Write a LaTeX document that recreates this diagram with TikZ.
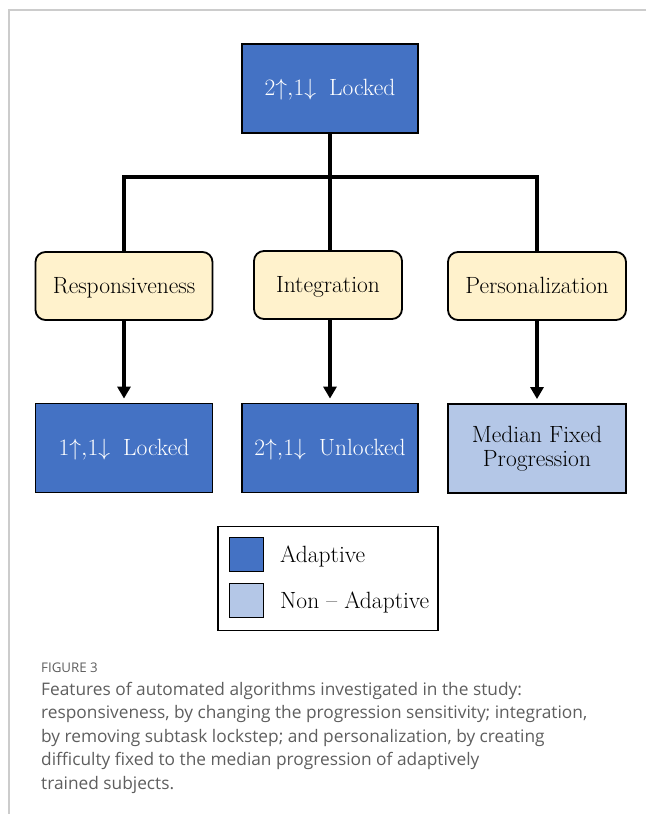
\documentclass[tikz,border=0pt]{standalone}
\usepackage{fix-cm}
\usepackage{fontspec}
\newfontfamily\capfont{Open Sans}
\usetikzlibrary{arrows.meta}
\definecolor{adapt}{HTML}{4472C4}
\definecolor{nonadapt}{HTML}{B4C7E7}
\definecolor{feat}{HTML}{FFF2CC}
\definecolor{framegray}{HTML}{CCCCCC}
\definecolor{capgray}{HTML}{5E5E5E}
\newcommand{\diagfont}{\fontsize{23.5}{24}\selectfont}
\begin{document}
\begin{tikzpicture}[x=1pt,y=-1pt,
  box/.style={draw=black,line width=1.8pt,minimum height=89pt,inner sep=0pt,
    font=\diagfont,align=center},
  oneline/.style={text height=18pt,text depth=4pt},
  featbox/.style={draw=black,line width=1.8pt,fill=feat,rounded corners=10pt,
    minimum height=68pt,inner sep=0pt,font=\diagfont,oneline},
  tree/.style={line width=4pt,line join=miter},
  arr/.style={line width=3.5pt,-{Triangle[length=12pt,width=13pt]},shorten >=4pt},
  swatch/.style={draw=black,line width=1.8pt,minimum size=34pt,inner sep=0pt},
  legtext/.style={anchor=west,inner sep=0pt,font=\diagfont},
  captext/.style={anchor=base west,inner sep=0pt,text=capgray,font=\capfont\fontsize{17.3}{23}\selectfont}
]
\useasboundingbox (0,0) rectangle (646,814);
\draw[framegray,line width=1.5pt] (646,10) -- (9,10) -- (9,814);

\node[box,oneline,fill=adapt,text=white,minimum width=176pt] (top) at (330,88.5) {$2{\uparrow}{,}1{\downarrow}$\hspace{0.55em}Locked};

\node[featbox,minimum width=177pt] (resp) at (124,286) {Responsiveness};
\node[featbox,minimum width=148pt] (integ) at (328,285) {Integration};
\node[featbox,minimum width=178pt] (pers) at (537,286) {Personalization};

\node[box,oneline,fill=adapt,text=white,minimum width=177pt] (low1) at (124,448) {$1{\uparrow}{,}1{\downarrow}$\hspace{0.55em}Locked};
\node[box,oneline,fill=adapt,text=white,minimum width=176pt] (low2) at (330,448) {$2{\uparrow}{,}1{\downarrow}$\hspace{0.55em}Unlocked};
\node[box,fill=nonadapt,minimum width=178pt] (low3) at (537,448.5) {Median Fixed\\Progression};

\coordinate (bar) at (330,177);
\draw[tree] (top.south) -- (bar);
\draw[tree] (resp.north) |- (bar) -| (pers.north);
\draw[tree] (bar) -- (bar |- integ.north);

\draw[arr] (resp.south) -- (low1.north);
\draw[arr] (integ.south -| low2.north) -- (low2.north);
\draw[arr] (pers.south) -- (low3.north);

\node[draw=black,line width=1.8pt,minimum width=220pt,minimum height=104pt,inner sep=0pt] (leg) at (328,578.5) {};
\node[swatch,fill=adapt] (sw1) at (246.5,554.5) {};
\node[swatch,fill=nonadapt] (sw2) at (246.5,600.5) {};
\node[legtext] (lt1) at (280,556) {Adaptive};
\node[legtext] (lt2) at (280,602) {Non -- Adaptive};

\node[anchor=base west,inner sep=0pt,text=capgray,font=\capfont\fontsize{13.3}{15}\selectfont] (fig) at (41,672) {FIGURE 3};
\node[captext] (c1) at (41,695) {Features of automated algorithms investigated in the study:};
\node[captext] (c2) at (41,718.5) {responsiveness, by changing the progression sensitivity; integration,};
\node[captext] (c3) at (41,742) {by removing subtask lockstep; and personalization, by creating};
\node[captext] (c4) at (41,765.5) {difficulty fixed to the median progression of adaptively};
\node[captext] (c5) at (41,789) {trained subjects.};
\end{tikzpicture}
\end{document}
